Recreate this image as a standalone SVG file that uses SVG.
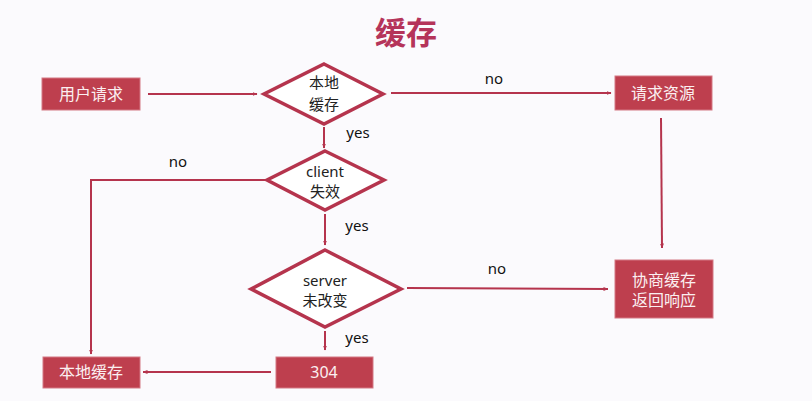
<svg xmlns="http://www.w3.org/2000/svg" width="812" height="401" viewBox="0 0 812 401">
<style>
.box{fill:#BE3F4E;stroke:#D47884;stroke-width:1}
.dia{fill:#FFFFFF;stroke:#B5344D;stroke-width:3.5;stroke-linejoin:miter}
.bt{font-family:"Noto Sans","Noto Sans CJK SC",sans-serif;font-size:16px;fill:#FBEFF1;text-anchor:middle}
.dt{font-family:"Noto Sans","Noto Sans CJK SC",sans-serif;font-size:15px;fill:#222222;text-anchor:middle}
.lb{font-family:"Noto Sans","Noto Sans CJK SC",sans-serif;font-size:15px;fill:#111111;text-anchor:middle}
.ln{fill:none;stroke:#B5344D;stroke-width:2}
</style>
<defs>
<marker id="ah" viewBox="0 0 10 10" refX="9" refY="5" markerWidth="5" markerHeight="5" orient="auto" markerUnits="userSpaceOnUse">
<path d="M0,1 L10,5 L0,9 z" fill="#B5344D"/>
</marker>
</defs>
<rect width="812" height="401" fill="#FBFAFD"/>
<text x="406" y="44" font-family="Noto Sans CJK SC, sans-serif" font-size="31" font-weight="bold" fill="#B5345A" text-anchor="middle">缓存</text>

<g id="connectors">
<line class="ln" x1="148" y1="94" x2="257" y2="94" marker-end="url(#ah)"/>
<line class="ln" x1="391" y1="93" x2="611" y2="93" marker-end="url(#ah)"/>
<line class="ln" x1="661" y1="118" x2="662" y2="248" marker-end="url(#ah)"/>
<line class="ln" x1="324" y1="127" x2="324" y2="148" marker-end="url(#ah)"/>
<polyline class="ln" points="266,180 91,180 91,354" marker-end="url(#ah)"/>
<line class="ln" x1="325" y1="214" x2="325" y2="245" marker-end="url(#ah)"/>
<line class="ln" x1="407" y1="288" x2="608" y2="289" marker-end="url(#ah)"/>
<line class="ln" x1="325" y1="331" x2="325" y2="350" marker-end="url(#ah)"/>
<line class="ln" x1="271" y1="372" x2="143" y2="372" marker-end="url(#ah)"/>
<text class="lb" x="494" y="84">no</text>
<text class="lb" x="358" y="138">yes</text>
<text class="lb" x="178" y="167">no</text>
<text class="lb" x="357" y="231">yes</text>
<text class="lb" x="497" y="274">no</text>
<text class="lb" x="357" y="343">yes</text>
</g>

<g id="n-user">
<rect class="box" x="42" y="78" width="98" height="32"/>
<text class="bt" x="91" y="100">用户请求</text>
</g>
<g id="n-local">
<polygon class="dia" points="324,64 383,94 324,124 264,94"/>
<text class="dt" x="324" y="88">本地</text>
<text class="dt" x="324" y="110">缓存</text>
</g>
<g id="n-req">
<rect class="box" x="615" y="76" width="97" height="34"/>
<text class="bt" x="663" y="99">请求资源</text>
</g>
<g id="n-client">
<polygon class="dia" points="325,151 384,180 325,210 267,180"/>
<text class="dt" x="325" y="177">client</text>
<text class="dt" x="325" y="197">失效</text>
</g>
<g id="n-server">
<polygon class="dia" points="325,250 401,289 325,327 251,289"/>
<text class="dt" x="325" y="286">server</text>
<text class="dt" x="325" y="306">未改变</text>
</g>
<g id="n-neg">
<rect class="box" x="615" y="260" width="98" height="58"/>
<text class="bt" x="664" y="286">协商缓存</text>
<text class="bt" x="664" y="306">返回响应</text>
</g>
<g id="n-304">
<rect class="box" x="276" y="357" width="97" height="31"/>
<text class="bt" x="324" y="378">304</text>
</g>
<g id="n-cache">
<rect class="box" x="43" y="357" width="97" height="31"/>
<text class="bt" x="91" y="378">本地缓存</text>
</g>
</svg>
